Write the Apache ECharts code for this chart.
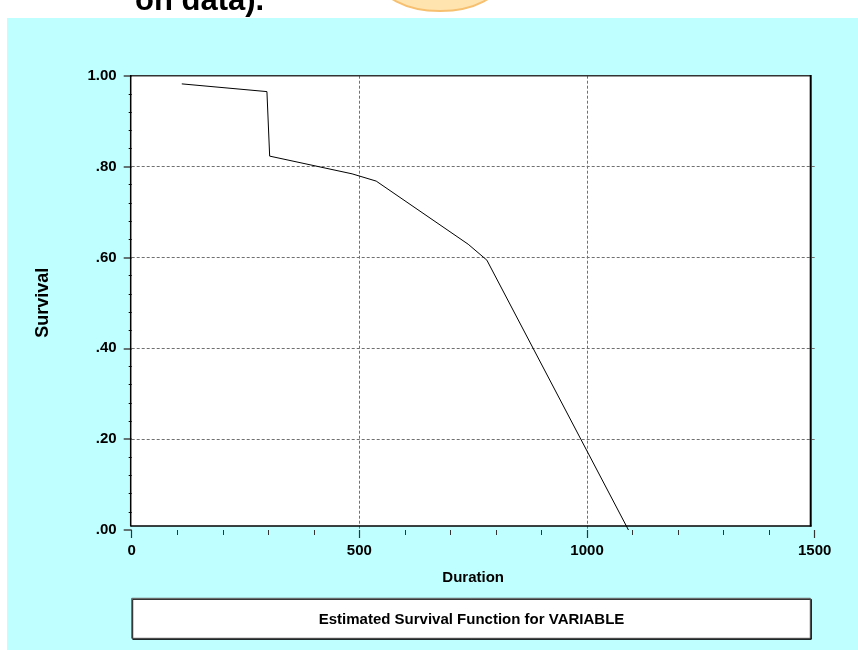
<!DOCTYPE html>
<html>
<head>
<meta charset="utf-8">
<script src="https://cdn.jsdelivr.net/npm/echarts@6/dist/echarts.min.js"></script>
<style>html,body{margin:0;padding:0;background:#fff;}#c{width:858px;height:650px;}</style>
</head>
<body>
<div id="c"></div>
<script>
// Data
var durations = [110, 297, 303, 484, 537, 739, 780, 1091];
var survival  = [0.982, 0.965, 0.823, 0.784, 0.768, 0.629, 0.594, 0.0];
var xTickLabels = ['0', '500', '1000', '1500'];
var yTickLabels = ['.00', '.20', '.40', '.60', '.80', '1.00'];
var seriesName = 'Estimated Survival Function for VARIABLE';

var points = durations.map(function (d, i) { return [d, survival[i]]; });

var FONT = '"Liberation Sans", Arial, sans-serif';
var chart = echarts.init(document.getElementById('c'), null, { renderer: 'canvas' });

var option = {
  animation: false,
  backgroundColor: '#ffffff',
  grid: { left: 131.7, right: 43.3, top: 75.7, bottom: 120, containLabel: false },
  legend: {
    data: [seriesName],
    left: 131.7,
    top: 598.3,
    icon: 'none',
    itemWidth: 0,
    padding: [14, 186, 11, 182],
    backgroundColor: '#ffffff',
    borderColor: '#555555',
    borderWidth: 1,
    shadowColor: '#000000',
    shadowOffsetX: 1,
    shadowOffsetY: 1,
    shadowBlur: 0,
    selectedMode: false,
    textStyle: { fontFamily: FONT, fontWeight: 'bold', fontSize: 15, color: '#000' }
  },
  xAxis: {
    type: 'value', min: 0, max: 1500, interval: 500,
    name: 'Duration', nameLocation: 'middle', nameGap: 40,
    nameTextStyle: { fontFamily: FONT, fontWeight: 'bold', fontSize: 15, color: '#000' },
    axisLine: { show: false },
    axisTick: { show: true, length: 8, lineStyle: { color: '#333', width: 1.2 } },
    minorTick: { show: true, splitNumber: 5, length: 5, lineStyle: { color: '#333', width: 1 } },
    axisLabel: {
      margin: 13, fontFamily: FONT, fontWeight: 'bold', fontSize: 15, color: '#000',
      formatter: function (v) { return xTickLabels[Math.round(v / 500)]; }
    },
    splitLine: { show: true, showMinLine: false, showMaxLine: false,
      lineStyle: { color: '#707070', width: 1, type: [3, 2] } }
  },
  yAxis: {
    type: 'value', min: 0, max: 1, interval: 0.2,
    name: 'Survival', nameLocation: 'middle', nameGap: 80, nameRotate: 90,
    nameTextStyle: { fontFamily: FONT, fontWeight: 'bold', fontSize: 18, color: '#000' },
    axisLine: { show: false },
    axisTick: { show: true, length: 8, lineStyle: { color: '#444', width: 1.5 } },
    minorTick: { show: true, splitNumber: 5, length: 3, lineStyle: { color: '#000', width: 1 } },
    axisLabel: {
      margin: 15, fontFamily: FONT, fontWeight: 'bold', fontSize: 15, color: '#000',
      formatter: function (v) { return yTickLabels[Math.round(v / 0.2)]; }
    },
    splitLine: { show: true, showMinLine: false, showMaxLine: false,
      lineStyle: { color: '#707070', width: 1, type: [3, 2] } }
  },
  series: [{
    name: seriesName,
    type: 'line',
    data: points,
    showSymbol: false,
    symbol: 'none',
    z: 5,
    lineStyle: { color: '#000', width: 1 },
    itemStyle: { color: '#000' }
  }],
  graphic: [
    { type: 'text', z: -30, style: { text: 'on data).', x: 135, y: 17, verticalAlign: 'bottom',
        font: 'bold 31px "Liberation Sans", Arial, sans-serif', fill: '#000' } },
    { type: 'ellipse', z: -29, shape: { cx: 440, cy: -22, rx: 62, ry: 33 },
        style: { fill: '#FFE4B0', stroke: '#F6C070', lineWidth: 2 } },
    { type: 'rect', z: -20, shape: { x: 7, y: 18, width: 851, height: 632 }, style: { fill: '#C0FFFF' } },
    { type: 'rect', z: -10, shape: { x: 130.7, y: 75.7, width: 680, height: 450.3 }, style: { fill: '#ffffff' } },
    { type: 'line', z: 50, shape: { x1: 130.7, y1: 75.7, x2: 810.7, y2: 75.7 }, style: { stroke: '#333', lineWidth: 1.5 } },
    { type: 'line', z: 50, shape: { x1: 810.7, y1: 75, x2: 810.7, y2: 526.5 }, style: { stroke: '#000', lineWidth: 2 } },
    { type: 'line', z: 50, shape: { x1: 130.7, y1: 526, x2: 811.5, y2: 526 }, style: { stroke: '#000', lineWidth: 1.5 } },
    { type: 'line', z: 50, shape: { x1: 130.7, y1: 75, x2: 130.7, y2: 526.5 }, style: { stroke: '#000', lineWidth: 1.5 } }
  ]
};
chart.setOption(option);
</script>
</body>
</html>
